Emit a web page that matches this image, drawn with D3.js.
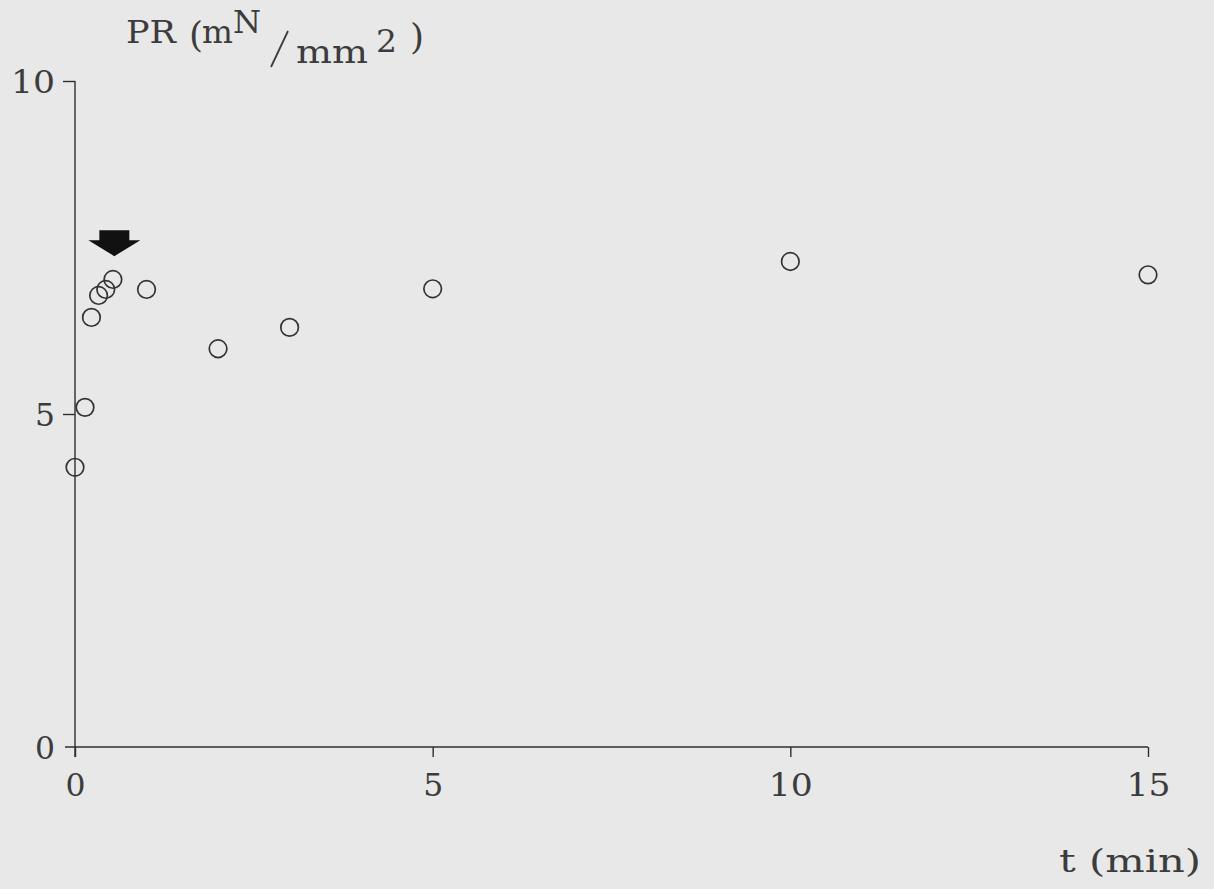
<!DOCTYPE html>
<html>
<head>
<meta charset="utf-8">
<script src="https://cdn.jsdelivr.net/npm/d3@7"></script>
<style>
  html, body { margin: 0; padding: 0; background: #e8e8e8; }
  svg { display: block; }
  text { font-family: "DejaVu Serif", "Liberation Serif", serif; fill: #3c3c3c; }
</style>
</head>
<body>
<svg id="chart" width="1214" height="889"></svg>
<script>
// Data
const timeMin = [0, 0.14, 0.23, 0.33, 0.43, 0.53, 1, 2, 3, 5, 10, 15];
const prValues = [4.2, 5.1, 6.45, 6.78, 6.87, 7.02, 6.87, 5.98, 6.30, 6.88, 7.29, 7.09];
const xTicks = [0, 5, 10, 15];
const yTicks = [0, 5, 10];
const arrowAt = { t: 0.55, pr: 7.37 };

const svg = d3.select("#chart");
const x = d3.scaleLinear().domain([0, 15]).range([75, 1148]);
const y = d3.scaleLinear().domain([0, 10]).range([747, 81]);

const ink = "#2e2e2e";
const fs = 31;
const labelWidth = d => String(d).length > 1 ? 44 : 20;

// x axis
const xAxis = d3.axisBottom(x).tickValues(xTicks).tickSize(10).tickFormat(d3.format("d"));
const gx = svg.append("g").attr("transform", `translate(0,${y(0)})`).call(xAxis);
gx.select(".domain").remove();
gx.append("line").attr("x1", 65).attr("x2", x(15)).attr("y1", 0).attr("y2", 0)
  .attr("stroke", ink).attr("stroke-width", 1.6);
gx.selectAll(".tick line").attr("stroke", ink).attr("stroke-width", 1.4);
gx.selectAll(".tick text").attr("font-size", fs).attr("fill", "#3c3c3c")
  .attr("font-family", "DejaVu Serif, serif")
  .attr("y", 49).attr("dy", 0)
  .attr("textLength", labelWidth)
  .attr("lengthAdjust", "spacingAndGlyphs");

// y axis
const yAxis = d3.axisLeft(y).tickValues(yTicks).tickSize(12).tickFormat(d3.format("d"));
const gy = svg.append("g").attr("transform", `translate(${x(0)},0)`).call(yAxis);
gy.select(".domain").remove();
gy.append("line").attr("x1", 0).attr("x2", 0).attr("y1", y(10)).attr("y2", y(0) + 10)
  .attr("stroke", ink).attr("stroke-width", 1.4);
gy.selectAll(".tick line").attr("stroke", ink).attr("stroke-width", 1.4);
gy.selectAll(".tick text").attr("font-size", fs).attr("fill", "#3c3c3c")
  .attr("font-family", "DejaVu Serif, serif")
  .attr("x", -20).attr("dy", "0.36em")
  .attr("textLength", labelWidth)
  .attr("lengthAdjust", "spacingAndGlyphs");
gy.selectAll(".tick").filter(d => d === 0).select("line").remove();

// points
svg.append("g").selectAll("circle")
  .data(timeMin.map((t, i) => ({ t, v: prValues[i] })))
  .join("circle")
  .attr("cx", d => x(d.t)).attr("cy", d => y(d.v)).attr("r", 8.8)
  .attr("fill", "none").attr("stroke", "#333").attr("stroke-width", 1.7);

// arrow annotation
const ax = x(arrowAt.t), ay = y(arrowAt.pr);
svg.append("path")
  .attr("d", `M${ax - 15},${ay - 26} L${ax + 15},${ay - 26} L${ax + 15},${ay - 16} L${ax + 26},${ay - 16} L${ax},${ay} L${ax - 26},${ay - 16} L${ax - 15},${ay - 16} Z`)
  .attr("fill", "#111");

// y label
const yl = svg.append("g").attr("font-size", fs);
yl.append("text").attr("x", 126).attr("y", 43).attr("textLength", 50).attr("lengthAdjust", "spacingAndGlyphs").text("PR");
yl.append("text").attr("x", 189).attr("y", 47).attr("font-size", 36).text("(");
yl.append("text").attr("x", 202).attr("y", 43).attr("textLength", 31).attr("lengthAdjust", "spacingAndGlyphs").text("m");
yl.append("text").attr("x", 233).attr("y", 33).attr("textLength", 28).attr("lengthAdjust", "spacingAndGlyphs").text("N");
yl.append("line").attr("x1", 288).attr("y1", 31).attr("x2", 271).attr("y2", 67)
  .attr("stroke", "#3c3c3c").attr("stroke-width", 1.8);
yl.append("text").attr("x", 296).attr("y", 63).attr("textLength", 72).attr("lengthAdjust", "spacingAndGlyphs").text("mm");
yl.append("text").attr("x", 376).attr("y", 52).attr("textLength", 21).attr("lengthAdjust", "spacingAndGlyphs").text("2");
yl.append("text").attr("x", 410).attr("y", 49).attr("font-size", 36).text(")");

// x label
svg.append("text").attr("x", 1059).attr("y", 872)
  .attr("font-size", fs).attr("textLength", 142).attr("lengthAdjust", "spacingAndGlyphs").text("t (min)");
</script>
</body>
</html>
